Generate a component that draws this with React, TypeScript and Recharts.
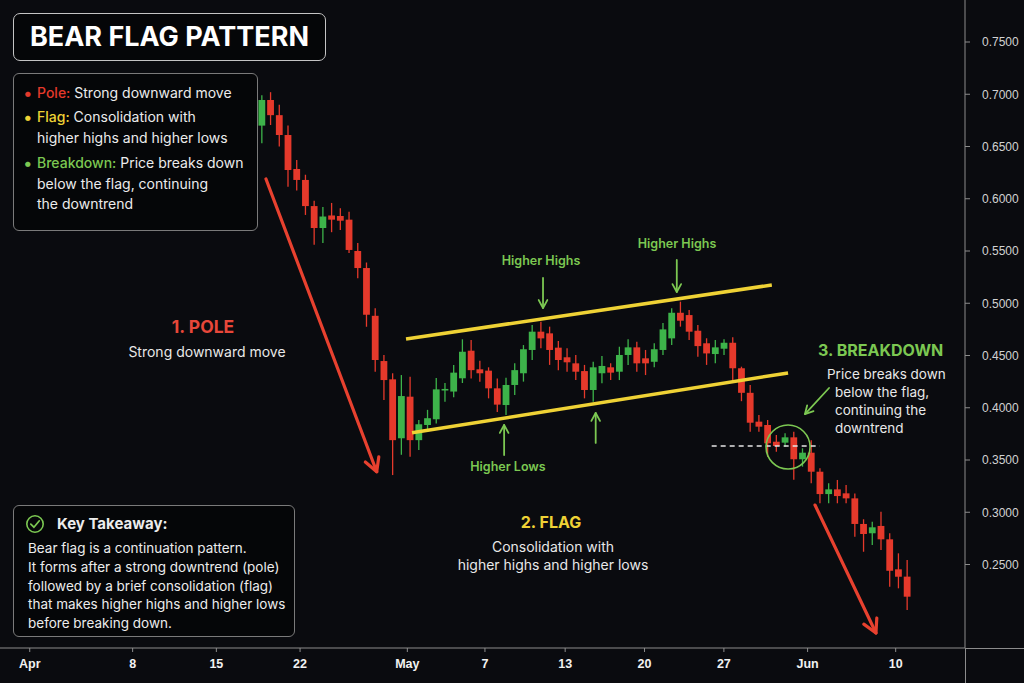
import React from "react";
import { Bar, ComposedChart, ReferenceDot, ReferenceLine, XAxis, YAxis } from "recharts";

// daily candles, index 0..74
const opens = [
  0.670, 0.6945, 0.680, 0.661, 0.6285, 0.618, 0.593, 0.572, 0.584, 0.5835,
  0.580, 0.550, 0.5337, 0.488, 0.4447, 0.4272, 0.3708, 0.4106, 0.369, 0.3835,
  0.389, 0.4165, 0.4155, 0.4282, 0.4546, 0.4368, 0.4355, 0.4186, 0.4026, 0.4218,
  0.433, 0.4553, 0.4728, 0.4712, 0.4575, 0.4483, 0.4425, 0.4351, 0.417, 0.433,
  0.4387, 0.4345, 0.4505, 0.4578, 0.4473, 0.444, 0.4553, 0.4664, 0.4909, 0.4887,
  0.4737, 0.4617, 0.4514, 0.4565, 0.4622, 0.4378, 0.4143, 0.3867, 0.3835, 0.3675,
  0.3666, 0.3717, 0.3507, 0.357, 0.3388, 0.3174, 0.3219, 0.3181, 0.3133, 0.2888,
  0.2799, 0.2869, 0.2741, 0.2454, 0.2384,
];
const highs = [
  0.699, 0.702, 0.690, 0.670, 0.637, 0.623, 0.598, 0.592, 0.596, 0.591,
  0.5876, 0.5577, 0.539, 0.4952, 0.4505, 0.433, 0.4313, 0.4297, 0.3883, 0.398,
  0.4285, 0.4237, 0.441, 0.4655, 0.4648, 0.445, 0.4387, 0.428, 0.4287, 0.4425,
  0.460, 0.4792, 0.4823, 0.4776, 0.464, 0.457, 0.4505, 0.441, 0.444, 0.4495,
  0.4425, 0.4584, 0.4655, 0.4632, 0.4553, 0.4617, 0.481, 0.4952, 0.5015, 0.4935,
  0.4792, 0.4665, 0.4648, 0.4655, 0.4675, 0.4393, 0.4218, 0.393, 0.3883, 0.374,
  0.3755, 0.3771, 0.3612, 0.369, 0.342, 0.3277, 0.3309, 0.326, 0.318, 0.2933,
  0.291, 0.3005, 0.2798, 0.2607, 0.2543,
];
const lows = [
  0.653, 0.6706, 0.650, 0.6115, 0.608, 0.5845, 0.556, 0.5577, 0.568, 0.570,
  0.548, 0.524, 0.4775, 0.4345, 0.4075, 0.3356, 0.355, 0.353, 0.3596, 0.377,
  0.385, 0.4058, 0.410, 0.4237, 0.428, 0.425, 0.409, 0.396, 0.393, 0.4122,
  0.425, 0.4457, 0.457, 0.441, 0.436, 0.4345, 0.4265, 0.409, 0.4058, 0.4234,
  0.4265, 0.4265, 0.441, 0.4345, 0.4313, 0.4387, 0.4505, 0.460, 0.4776, 0.4648,
  0.4488, 0.441, 0.4425, 0.4505, 0.4265, 0.4063, 0.377, 0.377, 0.353, 0.358,
  0.3627, 0.331, 0.3436, 0.3277, 0.3086, 0.3086, 0.3086, 0.3086, 0.2766, 0.2622,
  0.2687, 0.2638, 0.2288, 0.2272, 0.2065,
];
const closes = [
  0.6945, 0.680, 0.661, 0.6275, 0.618, 0.593, 0.572, 0.583, 0.580, 0.579,
  0.551, 0.5337, 0.489, 0.4457, 0.4265, 0.369, 0.4112, 0.369, 0.3842, 0.390,
  0.4176, 0.418, 0.4336, 0.4536, 0.436, 0.433, 0.4186, 0.403, 0.4218, 0.436,
  0.456, 0.4728, 0.4664, 0.4553, 0.4457, 0.4435, 0.4345, 0.417, 0.4387, 0.440,
  0.4336, 0.4505, 0.4578, 0.4425, 0.4425, 0.456, 0.475, 0.4909, 0.4833, 0.4728,
  0.459, 0.452, 0.4578, 0.4622, 0.4378, 0.4143, 0.3857, 0.3819, 0.366, 0.3634,
  0.3717, 0.3507, 0.357, 0.3388, 0.3174, 0.3219, 0.3155, 0.3133, 0.2888, 0.2792,
  0.2856, 0.2741, 0.244, 0.2383, 0.2192,
];

// x-axis ticks (candle index position) and their labels
const tickPositions = [-26.6, -14.8, -5.2, 4.4, 16.7, 25.6, 34.8, 43.9, 53.0, 62.6, 72.7];
const tickLabels = ["Apr", "8", "15", "22", "May", "7", "13", "20", "27", "Jun", "10"];
const priceTicks = [0.25, 0.3, 0.35, 0.4, 0.45, 0.5, 0.55, 0.6, 0.65, 0.7, 0.75];

// flag channel and annotations (index, price)
const upperLine = [{ x: 16.55, y: 0.4658 }, { x: 58.5, y: 0.5175 }];
const lowerLine = [{ x: 17.24, y: 0.3761 }, { x: 60.36, y: 0.4333 }];
const breakLevel = [{ x: 51.6, y: 0.3634 }, { x: 64.0, y: 0.3634 }];
const poleArrow = [{ x: 0.49, y: 0.6189 }, { x: 13.19, y: 0.3388 }];
const dropArrow = [{ x: 63.45, y: 0.3069 }, { x: 70.44, y: 0.1845 }];
const greenArrows = [
  [{ x: 32.26, y: 0.5242 }, { x: 32.26, y: 0.4955 }],
  [{ x: 47.6, y: 0.5414 }, { x: 47.6, y: 0.5108 }],
  [{ x: 27.8, y: 0.3548 }, { x: 27.8, y: 0.3835 }],
  [{ x: 38.3, y: 0.3663 }, { x: 38.3, y: 0.395 }],
  [{ x: 65.06, y: 0.4189 }, { x: 62.3, y: 0.394 }],
];

const RED = "#e5392b";
const GREEN = "#3db34a";
const YELLOW = "#efd235";
const LGREEN = "#7cc852";
const BG = "#0a0b0f";

const candles = opens.map((o, i) => ({
  idx: i,
  open: o,
  high: highs[i],
  low: lows[i],
  close: closes[i],
}));

const Candle = (props: any) => {
  const { x, y, width, height, payload } = props;
  const { open, close, high, low } = payload;
  const color = close >= open ? GREEN : RED;
  const cx = x + width / 2;
  const top = Math.min(y, y + height);
  const h = Math.abs(height);
  const ratio = h / (high - low);
  const bodyTop = top + (high - Math.max(open, close)) * ratio;
  const bodyH = Math.max(1.5, Math.abs(open - close) * ratio);
  return (
    <g>
      <line x1={cx} x2={cx} y1={top} y2={top + h} stroke={color} strokeWidth={1.3} />
      <rect x={cx - 3.4} y={bodyTop} width={6.8} height={bodyH} fill={color} />
    </g>
  );
};

const arrow = (color: string, w: number, head: number) => (p: any) => {
  const { x1, y1, x2, y2 } = p;
  const a = Math.atan2(y2 - y1, x2 - x1);
  const s = 0.5;
  const ax = x2 - head * Math.cos(a - s);
  const ay = y2 - head * Math.sin(a - s);
  const bx = x2 - head * Math.cos(a + s);
  const by = y2 - head * Math.sin(a + s);
  return (
    <g>
      <line x1={x1} y1={y1} x2={x2} y2={y2} stroke={color} strokeWidth={w} strokeLinecap="round" />
      <polyline
        points={`${ax},${ay} ${x2},${y2} ${bx},${by}`}
        fill="none"
        stroke={color}
        strokeWidth={w}
        strokeLinecap="round"
        strokeLinejoin="round"
      />
    </g>
  );
};

const abs = (left: number, top: number, extra: React.CSSProperties = {}): React.CSSProperties => ({
  position: "absolute",
  left,
  top,
  ...extra,
});

const label = (text: string, cx: number, cy: number, color: string, size: number, weight = 400) => (
  <div
    style={abs(cx - 150, cy - size * 0.65, {
      width: 300,
      textAlign: "center",
      color,
      fontSize: size,
      fontWeight: weight,
      lineHeight: `${size * 1.3}px`,
    })}
  >
    {text}
  </div>
);

const leftLabel = (text: string, x: number, cy: number, color: string, size: number, weight = 400) => (
  <div
    style={abs(x, cy - size * 0.65, {
      color,
      fontSize: size,
      fontWeight: weight,
      lineHeight: `${size * 1.3}px`,
      whiteSpace: "nowrap",
    })}
  >
    {text}
  </div>
);

export default function App() {
  return (
    <div
      style={{
        position: "absolute",
        left: 0,
        top: 0,
        width: 1024,
        height: 683,
        background: BG,
        overflow: "hidden",
        fontFamily: "Inter, 'Noto Sans', sans-serif",
      }}
    >
      <ComposedChart width={1024} height={683} data={candles} margin={{ top: 0, right: 0, left: 0, bottom: 0 }}>
        <XAxis
          dataKey="idx"
          type="number"
          domain={[-30.01, 80.65]}
          allowDataOverflow
          ticks={tickPositions}
          tickFormatter={(v: number) => tickLabels[tickPositions.indexOf(v)] ?? ""}
          height={35}
          stroke="#8c8c8c"
          tickSize={4}
          tickMargin={7}
          tick={{
            fill: "#f2f2f2",
            fontSize: 12.5,
            fontWeight: 700,
            fontFamily: "'Liberation Sans Narrow', 'Liberation Sans', sans-serif",
          }}
          interval={0}
        />
        <YAxis
          orientation="right"
          type="number"
          domain={[0.1701, 0.7902]}
          allowDataOverflow
          ticks={priceTicks}
          tickFormatter={(v: number) => v.toFixed(4)}
          width={59}
          stroke="#8c8c8c"
          tickSize={5}
          tickMargin={12}
          tick={{ fill: "#d2d2d2", fontSize: 12, fontFamily: "'Liberation Sans', sans-serif" }}
          interval={0}
        />
        <Bar
          dataKey={(d: any) => [d.low, d.high]}
          barSize={7}
          shape={Candle}
          isAnimationActive={false}
        />
        <ReferenceLine segment={upperLine} stroke={YELLOW} strokeWidth={3.5} ifOverflow="visible" />
        <ReferenceLine segment={lowerLine} stroke={YELLOW} strokeWidth={3.5} ifOverflow="visible" />
        <ReferenceLine
          segment={breakLevel}
          stroke="#e6e6e6"
          strokeWidth={1.5}
          strokeDasharray="5 4"
          ifOverflow="visible"
        />
        <ReferenceLine segment={poleArrow} shape={arrow("#e8412f", 3.2, 15)} ifOverflow="visible" />
        <ReferenceLine segment={dropArrow} shape={arrow("#e8412f", 3.2, 15)} ifOverflow="visible" />
        {greenArrows.map((seg, i) => (
          <ReferenceLine key={i} segment={seg} shape={arrow(LGREEN, 1.8, 9)} ifOverflow="visible" />
        ))}
        <ReferenceDot
          x={60.36}
          y={0.3624}
          r={22}
          fill="none"
          stroke={LGREEN}
          strokeWidth={1.6}
          ifOverflow="visible"
        />
      </ComposedChart>

      {/* axis line extensions */}
      <div style={abs(965, 648, { width: 59, height: 1, background: "#8c8c8c" })} />
      <div style={abs(965, 648, { width: 1, height: 35, background: "#8c8c8c" })} />

      {/* title */}
      <div
        style={abs(13, 13, {
          width: 311,
          height: 46,
          border: "1.5px solid #c4c4c4",
          borderRadius: 7,
          color: "#ffffff",
          fontSize: 27,
          fontWeight: 700,
          lineHeight: "46px",
          textAlign: "center",
          background: "#050608",
        })}
      >
        BEAR FLAG PATTERN
      </div>

      {/* legend box */}
      <div
        style={abs(13, 73, {
          width: 243,
          height: 147,
          border: "1px solid #7a7a7a",
          borderRadius: 6,
          background: "#050608",
          color: "#ececec",
          fontSize: 14,
          lineHeight: "20.5px",
          paddingTop: 9,
          boxSizing: "content-box",
        })}
      >
        {[
          { head: "Pole:", color: RED, lines: ["Strong downward move"], gap: 0 },
          { head: "Flag:", color: YELLOW, lines: ["Consolidation with", "higher highs and higher lows"], gap: 3.5 },
          { head: "Breakdown:", color: LGREEN, lines: ["Price breaks down", "below the flag, continuing", "the downtrend"], gap: 5 },
        ].map((it) => (
          <div key={it.head} style={{ position: "relative", paddingLeft: 23, marginTop: it.gap }}>
            <span style={{ position: "absolute", left: 9, color: it.color, fontSize: 17 }}>•</span>
            <span style={{ color: it.color, fontWeight: 500 }}>{it.head}</span> {it.lines[0]}
            {it.lines.slice(1).map((l) => (
              <div key={l}>{l}</div>
            ))}
          </div>
        ))}
      </div>

      {/* key takeaway box */}
      <div
        style={abs(13, 505, {
          width: 280,
          height: 130,
          border: "1px solid #7a7a7a",
          borderRadius: 6,
          background: "#050608",
          color: "#ececec",
        })}
      >
        <svg width={20} height={20} style={{ position: "absolute", left: 11, top: 8 }}>
          <circle cx={10} cy={10} r={8.2} fill="none" stroke={LGREEN} strokeWidth={1.6} />
          <polyline points="5.8,10.2 8.9,13.2 14.3,6.8" fill="none" stroke={LGREEN} strokeWidth={1.7} strokeLinecap="round" />
        </svg>
        <div style={{ position: "absolute", left: 43, top: 7, fontSize: 15, fontWeight: 700, lineHeight: "22px" }}>
          Key Takeaway:
        </div>
        <div style={{ position: "absolute", left: 14, top: 33, fontSize: 13.5, lineHeight: "18.8px", whiteSpace: "nowrap" }}>
          <div>Bear flag is a continuation pattern.</div>
          <div>It forms after a strong downtrend (pole)</div>
          <div>followed by a brief consolidation (flag)</div>
          <div>that makes higher highs and higher lows</div>
          <div>before breaking down.</div>
        </div>
      </div>

      {/* annotations */}
      {label("1. POLE", 203, 327, "#e8473a", 17.5, 700)}
      {label("Strong downward move", 207, 352, "#e8e8e8", 14)}
      {label("2. FLAG", 551, 522, YELLOW, 16, 700)}
      {label("Consolidation with", 553, 547, "#e8e8e8", 14)}
      {label("higher highs and higher lows", 553, 565, "#e8e8e8", 14)}
      {leftLabel("3. BREAKDOWN", 818, 350, LGREEN, 16, 700)}
      {leftLabel("Price breaks down", 827, 375, "#e8e8e8", 13.5)}
      {leftLabel("below the flag,", 835, 393, "#e8e8e8", 13.5)}
      {leftLabel("continuing the", 835, 411, "#e8e8e8", 13.5)}
      {leftLabel("downtrend", 835, 429, "#e8e8e8", 13.5)}
      {label("Higher Highs", 541, 261, LGREEN, 12.5, 600)}
      {label("Higher Highs", 677, 244, LGREEN, 12.5, 600)}
      {label("Higher Lows", 508, 467, LGREEN, 12.5, 600)}
    </div>
  );
}
